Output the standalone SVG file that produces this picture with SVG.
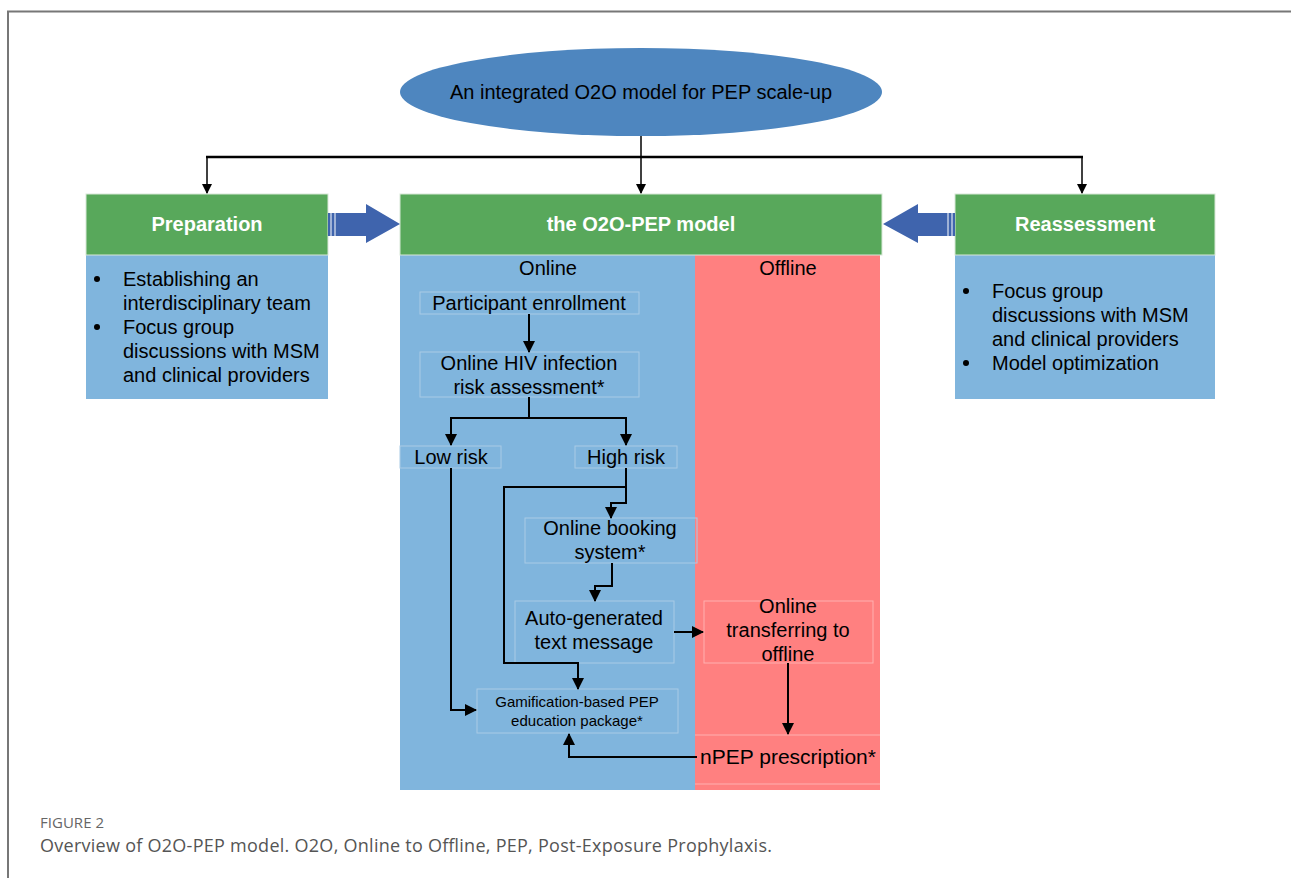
<svg xmlns="http://www.w3.org/2000/svg" width="1291" height="878" viewBox="0 0 1291 878">
<defs>
<marker id="ah" markerWidth="10" markerHeight="10" refX="9" refY="5" orient="auto" markerUnits="userSpaceOnUse">
<path d="M0,0 L10,5 L0,10 Z" fill="#000"/>
</marker>
<marker id="ahs" markerWidth="12" markerHeight="12" refX="11" refY="6" orient="auto" markerUnits="userSpaceOnUse">
<path d="M0,0 L12,6 L0,12 Z" fill="#000"/>
</marker>
</defs>
<style>
text{font-family:"Liberation Sans",Arial,sans-serif;fill:#000;}
.t18{font-size:20px;}
.t13{font-size:15px;}
.hdr{font-size:20px;font-weight:bold;fill:#fff;}
.green{fill:#58a85b;stroke:#d8e8d8;stroke-width:1;}
.blue{fill:#80b5dd;}
.red{fill:#ff8080;}
.inner{fill:none;stroke:#a9cbe6;stroke-width:1;}
.innerr{fill:none;stroke:#ffb0b0;stroke-width:1;}
.ln{fill:none;stroke:#000;stroke-width:2;}
.barrow{fill:#3f64ad;}
.stripe{stroke:#fff;stroke-width:1;}
.cap1{font-family:"Open Sans","Liberation Sans",sans-serif;font-size:15px;fill:#666;}
.cap2{font-family:"Open Sans","Liberation Sans",sans-serif;font-size:18px;fill:#555;}
</style>
<rect width="1291" height="878" fill="#fff"/>
<path d="M8,878 V11.5 H1291" fill="none" stroke="#777" stroke-width="2"/>

<g id="top">
<ellipse cx="641" cy="92" rx="241" ry="44" fill="#4e86bf"/>
<text class="t18" x="641" y="99" text-anchor="middle">An integrated O2O model for PEP scale-up</text>
</g>

<g id="preparation">
<rect class="blue" x="86" y="255" width="242" height="144"/>
<rect class="green" x="86" y="194" width="242" height="61"/>
<text class="hdr" x="207" y="231" text-anchor="middle">Preparation</text>
<circle cx="97" cy="279" r="3"/>
<circle cx="97" cy="327" r="3"/>
<text class="t18" x="123" y="286">Establishing an</text>
<text class="t18" x="123" y="310">interdisciplinary team</text>
<text class="t18" x="123" y="334">Focus group</text>
<text class="t18" x="123" y="358">discussions with MSM</text>
<text class="t18" x="123" y="382">and clinical providers</text>
</g>

<g id="model">
<rect class="blue" x="400" y="255" width="295" height="535"/>
<rect class="red" x="695" y="255" width="185" height="535"/>
<rect class="green" x="400" y="194" width="482" height="61"/>
<text class="hdr" x="641" y="231" text-anchor="middle">the O2O-PEP model</text>
<text class="t18" x="548" y="275" text-anchor="middle">Online</text>
<text class="t18" x="788" y="275" text-anchor="middle">Offline</text>
<line x1="695" y1="735" x2="880" y2="735" stroke="#ffb0b0" stroke-width="1"/>
<line x1="695" y1="784" x2="880" y2="784" stroke="#ffb0b0" stroke-width="1"/>
</g>

<g id="reassessment">
<rect class="blue" x="955" y="255" width="260" height="144"/>
<rect class="green" x="955" y="194" width="260" height="61"/>
<text class="hdr" x="1085" y="231" text-anchor="middle">Reassessment</text>
<circle cx="966" cy="291" r="3"/>
<circle cx="966" cy="363" r="3"/>
<text class="t18" x="992" y="298">Focus group</text>
<text class="t18" x="992" y="322">discussions with MSM</text>
<text class="t18" x="992" y="346">and clinical providers</text>
<text class="t18" x="992" y="370">Model optimization</text>
</g>

<g id="n-enroll">
<rect class="inner" x="420" y="292" width="219" height="22"/>
<text class="t18" x="529" y="310" text-anchor="middle">Participant enrollment</text>
</g>
<g id="n-risk">
<rect class="inner" x="420" y="352" width="219" height="45"/>
<text class="t18" x="529" y="370" text-anchor="middle">Online HIV infection</text>
<text class="t18" x="529" y="394" text-anchor="middle">risk assessment*</text>
</g>
<g id="n-low">
<rect class="inner" x="400" y="446" width="101" height="22"/>
<text class="t18" x="451" y="464" text-anchor="middle">Low risk</text>
</g>
<g id="n-high">
<rect class="inner" x="575" y="446" width="102" height="22"/>
<text class="t18" x="626" y="464" text-anchor="middle">High risk</text>
</g>
<g id="n-booking">
<rect class="inner" x="525" y="518" width="172" height="45"/>
<text class="t18" x="610" y="535" text-anchor="middle">Online booking</text>
<text class="t18" x="610" y="559" text-anchor="middle">system*</text>
</g>
<g id="n-auto">
<rect class="inner" x="515" y="601" width="159" height="62"/>
<text class="t18" x="594" y="625" text-anchor="middle">Auto-generated</text>
<text class="t18" x="594" y="649" text-anchor="middle">text message</text>
</g>
<g id="n-transfer">
<rect class="innerr" x="704" y="601" width="169" height="62"/>
<text class="t18" x="788" y="613" text-anchor="middle">Online</text>
<text class="t18" x="788" y="637" text-anchor="middle">transferring to</text>
<text class="t18" x="788" y="661" text-anchor="middle">offline</text>
</g>
<g id="n-game">
<rect class="inner" x="477" y="689" width="201" height="44"/>
<text class="t13" x="577" y="707" text-anchor="middle">Gamification-based PEP</text>
<text class="t13" x="577" y="726" text-anchor="middle">education package*</text>
</g>
<g id="n-npep">
<text x="788" y="764" text-anchor="middle" style="font-size:21px">nPEP prescription*</text>
</g>

<g id="block-arrows">
<path class="barrow" d="M328,213 H366 V204 L400,224 L366,243 V236 H328 Z"/>
<line class="stripe" x1="331" y1="213" x2="331" y2="236"/>
<line class="stripe" x1="335" y1="213" x2="335" y2="236"/>
<path class="barrow" d="M955,213 H918 V204 L883,224 L918,243 V236 H955 Z"/>
<line class="stripe" x1="952" y1="213" x2="952" y2="236"/>
<line class="stripe" x1="948" y1="213" x2="948" y2="236"/>
</g>

<g id="connectors">
<line x1="641" y1="136" x2="641" y2="157" stroke="#000" stroke-width="1.5"/>
<line x1="206" y1="157" x2="1083" y2="157" stroke="#000" stroke-width="2.5"/>
<line x1="207" y1="157" x2="207" y2="193" stroke="#000" stroke-width="1.5" marker-end="url(#ah)"/>
<line x1="641" y1="157" x2="641" y2="193" stroke="#000" stroke-width="1.5" marker-end="url(#ah)"/>
<line x1="1082" y1="157" x2="1082" y2="193" stroke="#000" stroke-width="1.5" marker-end="url(#ah)"/>

<line class="ln" x1="529" y1="314" x2="529" y2="352" marker-end="url(#ahs)"/>
<path class="ln" d="M529,397 V418 H451 V445" marker-end="url(#ahs)"/>
<path class="ln" d="M529,418 H626 V445" marker-end="url(#ahs)"/>
<path class="ln" d="M451,468 V710 H476" marker-end="url(#ahs)"/>
<path class="ln" d="M626,468 V503 H611 V518" marker-end="url(#ahs)"/>
<path class="ln" d="M626,487 H504 V663 H578 V689" marker-end="url(#ahs)"/>
<path class="ln" d="M612,563 V586 H595 V601" marker-end="url(#ahs)"/>
<line class="ln" x1="674" y1="632" x2="703" y2="632" marker-end="url(#ahs)"/>
<line class="ln" x1="788" y1="663" x2="788" y2="734" marker-end="url(#ahs)"/>
<path class="ln" d="M697,757 H569 V734" marker-end="url(#ahs)"/>
</g>

<g id="caption">
<text class="cap1" x="40" y="828" textLength="64">FIGURE 2</text>
<text class="cap2" x="40" y="852" textLength="732">Overview of O2O-PEP model. O2O, Online to Offline, PEP, Post-Exposure Prophylaxis.</text>
</g>
</svg>
